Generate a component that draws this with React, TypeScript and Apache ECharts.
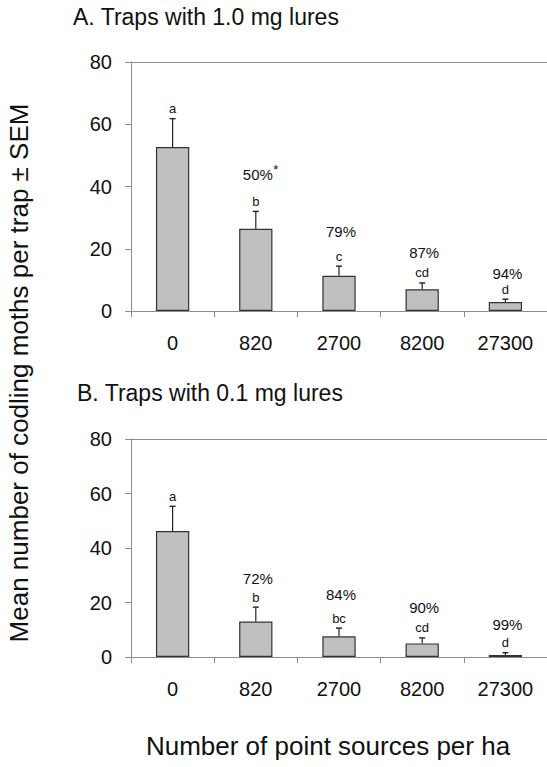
import React, { useEffect, useRef } from "react";
import * as echarts from "echarts";

const categories = ["0", "820", "2700", "8200", "27300"];
const yTicks = [0, 20, 40, 60, 80];

const meansA = [52.7, 26.4, 11.3, 7.0, 2.9];
const errTopA = [61.8, 32.0, 14.4, 9.0, 3.8];
const lettersA = ["a", "b", "c", "cd", "d"];
const pctA = ["", "50%*", "79%", "87%", "94%"];
const pctOffsetA = [0, 37, 35, 30, 26];

const meansB = [46.2, 13.0, 7.6, 5.0, 0.7];
const errTopB = [55.3, 18.3, 10.6, 7.0, 1.6];
const lettersB = ["a", "b", "bc", "cd", "d"];
const pctB = ["", "72%", "84%", "90%", "99%"];
const pctOffsetB = [0, 29, 34, 30, 28];

const titleA = "A. Traps with 1.0 mg lures";
const titleB = "B. Traps with 0.1 mg lures";
const yTitle = "Mean number of codling moths per trap ± SEM";
const xTitle = "Number of point sources per ha";

const FONT = "'Liberation Sans', Arial, Helvetica, sans-serif";
const AXIS_GRAY = "#8c8c8c";

function makeRenderItem(letters: string[], pcts: string[], offsets: number[]) {
  return (params: any, api: any) => {
    const i = params.dataIndex;
    const x = api.value(0);
    const top = api.coord([x, api.value(1)]);
    const base = api.coord([x, api.value(2)]);
    const children: any[] = [
      {
        type: "line",
        shape: { x1: top[0], y1: base[1], x2: top[0], y2: top[1] },
        style: { stroke: "#222", lineWidth: 1.2 },
      },
      {
        type: "line",
        shape: { x1: top[0] - 3, y1: top[1], x2: top[0] + 3, y2: top[1] },
        style: { stroke: "#222", lineWidth: 1.4 },
      },
      {
        type: "text",
        x: top[0],
        y: top[1] - 10,
        style: {
          text: letters[i],
          fontSize: 13,
          fontFamily: FONT,
          fill: "#111",
          align: "center",
          verticalAlign: "middle",
        },
      },
    ];
    const p = pcts[i];
    if (p) {
      const star = p.endsWith("*");
      const txt = star ? p.slice(0, -1) : p;
      const py = top[1] - offsets[i];
      children.push({
        type: "text",
        x: top[0] + 2,
        y: py,
        style: {
          text: txt,
          fontSize: 15,
          fontFamily: FONT,
          fill: "#111",
          align: "center",
          verticalAlign: "middle",
        },
      });
      if (star) {
        children.push({
          type: "text",
          x: top[0] + 20,
          y: py - 5,
          style: {
            text: "*",
            fontSize: 13,
            fontFamily: FONT,
            fill: "#111",
            align: "center",
            verticalAlign: "middle",
          },
        });
      }
    }
    return { type: "group", children };
  };
}

function axisPair(idx: number) {
  const x = {
    type: "category",
    gridIndex: idx,
    data: categories,
    axisLine: { show: true, lineStyle: { color: AXIS_GRAY, width: 1 } },
    axisTick: { show: true, length: 6, lineStyle: { color: AXIS_GRAY } },
    axisLabel: { color: "#111", fontSize: 20, fontFamily: FONT, margin: 22 },
    splitLine: { show: false },
  };
  const y = {
    type: "value",
    gridIndex: idx,
    min: yTicks[0],
    max: yTicks[yTicks.length - 1],
    interval: yTicks[1] - yTicks[0],
    axisLine: { show: true, lineStyle: { color: AXIS_GRAY, width: 1 } },
    axisTick: { show: true, length: 6, lineStyle: { color: AXIS_GRAY } },
    axisLabel: { color: "#111", fontSize: 20, fontFamily: FONT, margin: 19 },
    splitLine: { show: false },
  };
  return { x, y };
}

export default function App() {
  const ref = useRef<HTMLDivElement>(null);
  useEffect(() => {
    if (!ref.current) return;
    const chart = echarts.init(ref.current, undefined, { renderer: "svg" });
    const a = axisPair(0);
    const b = axisPair(1);
    const barStyle = { color: "#c0c0c0", borderColor: "#333", borderWidth: 1.2 };
    const topLine = {
      silent: true,
      symbol: "none",
      label: { show: false },
      lineStyle: { color: AXIS_GRAY, type: "solid", width: 1 },
      data: [{ yAxis: yTicks[yTicks.length - 1] }],
    };
    chart.setOption({
      animation: false,
      backgroundColor: "#fff",
      grid: [
        { left: 131, top: 62, height: 249, right: -3, containLabel: false },
        { left: 131, top: 439, height: 218, right: -6, containLabel: false },
      ],
      xAxis: [a.x, b.x],
      yAxis: [a.y, b.y],
      series: [
        {
          type: "bar",
          xAxisIndex: 0,
          yAxisIndex: 0,
          data: meansA,
          barWidth: "40%",
          itemStyle: barStyle,
          markLine: topLine,
        },
        {
          type: "custom",
          xAxisIndex: 0,
          yAxisIndex: 0,
          data: meansA.map((m, i) => [i, errTopA[i], m]),
          encode: { x: 0, y: [1, 2] },
          renderItem: makeRenderItem(lettersA, pctA, pctOffsetA),
          z: 5,
        },
        {
          type: "bar",
          xAxisIndex: 1,
          yAxisIndex: 1,
          data: meansB,
          barWidth: "40%",
          itemStyle: barStyle,
          markLine: topLine,
        },
        {
          type: "custom",
          xAxisIndex: 1,
          yAxisIndex: 1,
          data: meansB.map((m, i) => [i, errTopB[i], m]),
          encode: { x: 0, y: [1, 2] },
          renderItem: makeRenderItem(lettersB, pctB, pctOffsetB),
          z: 5,
        },
      ],
      graphic: [
        {
          type: "text",
          left: 73,
          top: 5,
          style: { text: titleA, fontSize: 23, fontFamily: FONT, fill: "#111" },
        },
        {
          type: "text",
          left: 77,
          top: 381,
          style: { text: titleB, fontSize: 23, fontFamily: FONT, fill: "#111" },
        },
        {
          type: "text",
          x: 19,
          y: 373,
          rotation: Math.PI / 2,
          style: {
            text: yTitle,
            fontSize: 26,
            fontFamily: FONT,
            fill: "#111",
            align: "center",
            verticalAlign: "middle",
          },
        },
        {
          type: "text",
          x: 328,
          y: 746,
          style: {
            text: xTitle,
            fontSize: 26,
            fontFamily: FONT,
            fill: "#111",
            align: "center",
            verticalAlign: "middle",
          },
        },
      ],
    });
    return () => chart.dispose();
  }, []);
  return (
    <div
      ref={ref}
      style={{ position: "absolute", left: 0, top: 0, width: 547, height: 767 }}
    />
  );
}
